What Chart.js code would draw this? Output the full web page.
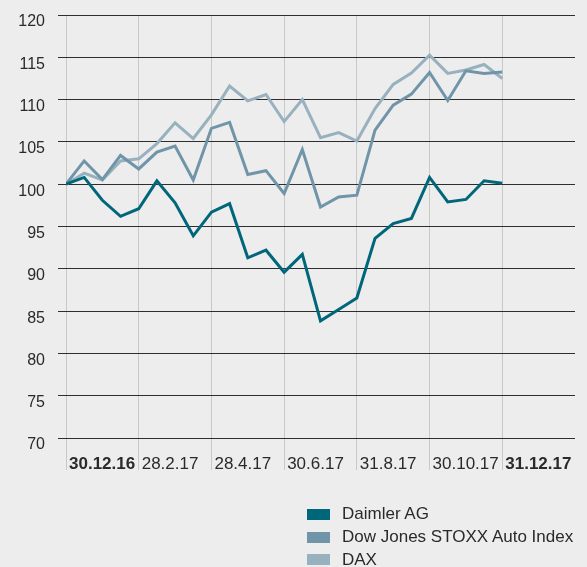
<!DOCTYPE html>
<html>
<head>
<meta charset="utf-8">
<script src="https://cdn.jsdelivr.net/npm/chart.js@4.4.0/dist/chart.umd.min.js"></script>
<style>
    body { margin: 0; background: #ededed; font-family: 'Liberation Sans', Arial, sans-serif; }
    #wrap { position: relative; width: 587px; height: 567px; }
    #legend { position: absolute; left: 307px; top: 503px; color: #2a2a2a; font-size: 17px; }
    #legend .item { display: flex; align-items: center; height: 22.7px; }
    #legend .box { width: 23px; height: 11px; margin-right: 12px; }
</style>
</head>
<body>
<div id="wrap">
    <canvas id="chart" width="587" height="567"></canvas>
    <div id="legend"></div>
</div>
<script>
// x axis: every 4th half-month step gets a date label
const tickLabels = ['30.12.16', '28.2.17', '28.4.17', '30.6.17', '31.8.17', '30.10.17', '31.12.17'];

const daimler = [100, 100.8, 98.1, 96.2, 97.1, 100.4, 97.8, 93.9, 96.7, 97.7, 91.3, 92.2, 89.6,
    91.7, 83.85, 85.2, 86.55, 93.6, 95.35, 95.95, 100.8, 97.9, 98.2, 100.4, 100.1];
const stoxxAuto = [100, 102.75, 100.55, 103.4, 101.8, 103.8, 104.5, 100.5, 106.6, 107.3, 101.15, 101.6, 98.9,
    104.1, 97.3, 98.5, 98.7, 106.4, 109.35, 110.65, 113.2, 109.9, 113.4, 113.1, 113.25];
const dax = [100, 101.3, 100.5, 102.75, 103.0, 104.8, 107.25, 105.4, 108.2, 111.6, 109.85, 110.6, 107.4,
    110.0, 105.5, 106.1, 105.1, 108.95, 111.8, 113.15, 115.25, 113.1, 113.5, 114.15, 112.5];

const seriesNames = ['Daimler AG', 'Dow Jones STOXX Auto Index', 'DAX'];
const seriesColors = ['#00677a', '#7095a8', '#98b1bf'];

const toPoints = arr => arr.map((v, i) => ({ x: i, y: v }));
const textColor = '#2a2a2a';

const datasets = [daimler, stoxxAuto, dax].map((values, i) => ({
    label: seriesNames[i],
    data: toPoints(values),
    borderColor: seriesColors[i],
    borderWidth: 3,
    pointRadius: 0,
    tension: 0
}));

new Chart(document.getElementById('chart'), {
    type: 'line',
    data: { datasets },
    options: {
        responsive: false,
        animation: false,
        devicePixelRatio: 1,
        layout: { padding: { top: 15, right: 12, bottom: 97, left: 0 } },
        plugins: {
            legend: { display: false },
            tooltip: { enabled: false }
        },
        scales: {
            x: {
                type: 'linear',
                min: 0,
                max: 28,
                afterBuildTicks: scale => {
                    scale.ticks = tickLabels.map((_, i) => ({ value: i * 4 }));
                },
                afterFit: scale => { scale.height = 32; },
                border: { display: false },
                grid: { color: '#c8c8c8', tickColor: '#c8c8c8', tickLength: 32 },
                ticks: {
                    autoSkip: false,
                    maxRotation: 0,
                    align: 'start',
                    labelOffset: 3,
                    padding: -16,
                    color: textColor,
                    font: ctx => ({
                        family: "'Liberation Sans', Arial, sans-serif",
                        size: 17,
                        weight: (ctx.index === 0 || ctx.index === tickLabels.length - 1) ? 'bold' : 'normal'
                    }),
                    callback: value => tickLabels[value / 4]
                }
            },
            y: {
                min: 70,
                max: 120,
                afterFit: scale => {
                    scale.width = 66;
                    // labels sit below their line, no extra room needed above
                    scale.paddingTop = 0;
                    scale.paddingBottom = 0;
                },
                border: { display: false },
                grid: { color: '#2e2e2e', tickColor: '#2e2e2e', tickLength: 8 },
                ticks: {
                    stepSize: 5,
                    padding: 13,
                    labelOffset: 7,
                    color: textColor,
                    font: { family: "'Liberation Sans', Arial, sans-serif", size: 16 }
                }
            }
        }
    }
});

// legend stacked below the plot, right side
const legend = document.getElementById('legend');
seriesNames.forEach((name, i) => {
    legend.innerHTML += `<div class="item"><span class="box" style="background:${seriesColors[i]}"></span>${name}</div>`;
});
</script>
</body>
</html>
